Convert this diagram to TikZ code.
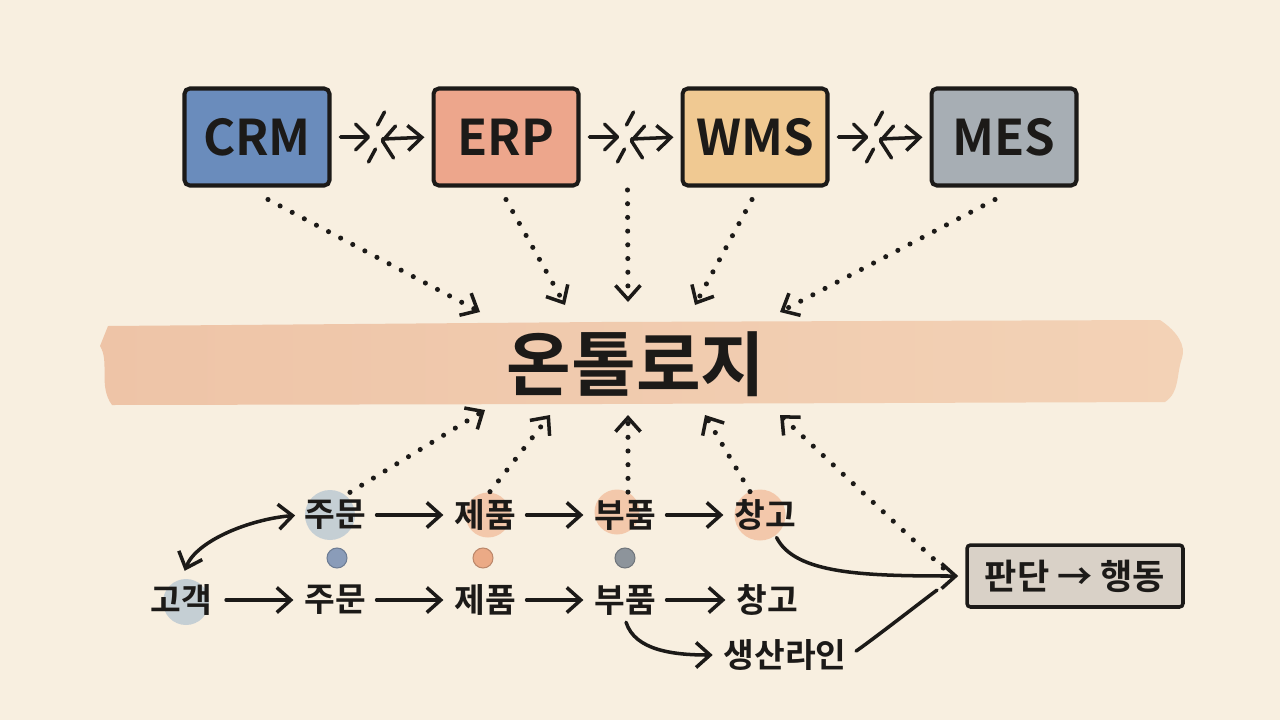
\documentclass[tikz,border=0pt]{standalone}
\usepackage{fontspec}
\setmainfont{Noto Sans CJK KR}[BoldFont={Noto Sans CJK KR Bold}]
\usepackage{tikz}
\usetikzlibrary{arrows.meta,positioning,calc}
\definecolor{bg}{HTML}{F8EFE0}
\definecolor{ink}{HTML}{1C1A18}
\definecolor{crmc}{HTML}{6A8CBC}
\definecolor{erpc}{HTML}{EDA68C}
\definecolor{wmsc}{HTML}{F0C992}
\definecolor{mesc}{HTML}{A7AEB4}
\definecolor{wash}{HTML}{EEC4A7}
\definecolor{washlt}{HTML}{F3D2B6}
\definecolor{mist}{HTML}{B9C7D2}
\definecolor{peach}{HTML}{F2BF9E}
\definecolor{stone}{HTML}{D9D1C7}
\definecolor{dotb}{HTML}{8A9CB9}
\definecolor{doto}{HTML}{EBAA86}
\definecolor{dotg}{HTML}{8D949B}
\tikzset{
  sys/.style={draw=ink, line width=2.3pt, rounded corners=3pt, minimum width=2.9cm, minimum height=1.94cm, font=\bfseries\fontsize{28}{28}\selectfont, text=ink},
  word/.style={font=\bfseries\fontsize{19}{19}\selectfont, text=ink, inner sep=2pt},
  judgebox/.style={word, font=\bfseries\fontsize{20}{20}\selectfont, draw=ink, fill=stone, line width=2pt, rounded corners=2pt, minimum width=4.32cm, minimum height=1.24cm},
  link/.style={line width=2pt, draw=ink, line cap=round, line join=round},
  flow/.style={link, -{Straight Barb[length=2.8mm,width=5mm]}},
  both/.style={link, {Straight Barb[length=2.8mm,width=5mm]}-{Straight Barb[length=2.8mm,width=5mm]}},
  feed/.style={line width=2.9pt, draw=ink, line cap=round, dash pattern=on 0pt off 7.8pt, -{Straight Barb[length=2.8mm,width=5mm,line width=2pt]}},
  blob/.style={circle, fill=#1, fill opacity=0.8, inner sep=0pt},
  dot/.style={circle, fill=#1, draw=#1!80!black, line width=0.6pt, minimum size=0.4cm, inner sep=0pt},
}
\newcommand{\brk}[3]{%
  \coordinate (#3) at ($(#1.east)!0.45!(#2.west)$);
  \draw[link, shorten <=5pt] (#1.east) -- ($(#3)+(-9,0)$);
  \draw[link] ($(#3)+(-21,-13)$) -- ($(#3)+(-8,0)$) -- ($(#3)+(-21,13)$);
  \draw[link] ($(#3)+(8,-25)$) -- ($(#3)+(1,-12)$);
  \draw[link] ($(#3)+(-1,12)$) -- ($(#3)+(-8,25)$);
  \draw[link] ($(#3)+(19,-11)$) -- ($(#3)+(6,4)$) -- ($(#3)+(17,21)$);
  \draw[flow, shorten >=4pt] ($(#3)+(6,2)$) -- (#2.west);
}
\begin{document}
\begin{tikzpicture}[x=0.02cm,y=-0.02cm]
  \fill[bg] (0,0) rectangle (1280,720);
  \useasboundingbox (0,0) rectangle (1280,720);

  \shade[left color=wash, right color=washlt] (108,326) -- (600,322) -- (1160,320)
    .. controls (1178,332) and (1186,346) .. (1182,358) .. controls (1176,375) and (1180,392) .. (1165,402)
    -- (600,404) -- (112,405) .. controls (98,386) and (110,362) .. (100,346) .. controls (104,336) .. (108,326) -- cycle;
  \node[font=\bfseries\fontsize{40}{40}\selectfont, text=ink] (onto) at (636,364) {온톨로지};

  \node[sys, fill=crmc] (crm) at (257,137) {CRM};
  \node[sys, fill=erpc] (erp) at (506,137) {ERP};
  \node[sys, fill=wmsc] (wms) at (755,137) {WMS};
  \node[sys, fill=mesc] (mes) at (1004,137) {MES};
  \brk{crm}{erp}{gap1}
  \brk{erp}{wms}{gap2}
  \brk{wms}{mes}{gap3}

  \coordinate (in1) at (480,312);
  \coordinate (in2) at (565,305);
  \coordinate (in3) at (628,302);
  \coordinate (in4) at (695,305);
  \coordinate (in5) at (780,312);
  \draw[feed] ($(crm.south)+(11,12)$) -- (in1);
  \draw[feed] ($(erp.south)+(0,12)$) -- (in2);
  \draw[feed] ($(gap2)+(2,53)$) -- (in3);
  \draw[feed] ($(wms.south)+(-3,12)$) -- (in4);
  \draw[feed] ($(mes.south)+(-9,12)$) -- (in5);

  \node[blob=mist, minimum size=1cm] at (330,515) {};
  \node[blob=peach, minimum size=0.9cm] at (488,515) {};
  \node[blob=peach, minimum size=0.9cm] at (617,512) {};
  \node[blob=peach, minimum size=1.02cm] at (760,515) {};
  \node[blob=mist, minimum size=0.92cm] at (186,602) {};

  \node[word] (ord1) at (335,515) {주문};
  \node[word] (prd1) at (485,515) {제품};
  \node[word] (prt1) at (625,515) {부품};
  \node[word] (whs1) at (765,515) {창고};

  \node[dot=dotb] (d1) at (337,558) {};
  \node[dot=doto] (d2) at (483,558) {};
  \node[dot=dotg] (d3) at (625,558) {};

  \node[word] (cust) at (181,600) {고객};
  \node[word] (ord2) at (335,600) {주문};
  \node[word] (prd2) at (485,600) {제품};
  \node[word] (prt2) at (625,600) {부품};
  \node[word] (whs2) at (767,600) {창고};
  \node[word] (line) at (785,655) {생산라인};

  \node[judgebox] (judge) at (1075,576) {판단 → 행동};

  \draw[flow, shorten <=4pt, shorten >=4pt] (ord1) -- (prd1);
  \draw[flow, shorten <=4pt, shorten >=4pt] (prd1) -- (prt1);
  \draw[flow, shorten <=4pt, shorten >=4pt] (prt1) -- (whs1);
  \draw[flow, shorten <=6pt, shorten >=4pt] (cust) -- (ord2);
  \draw[flow, shorten <=4pt, shorten >=4pt] (ord2) -- (prd2);
  \draw[flow, shorten <=4pt, shorten >=4pt] (prd2) -- (prt2);
  \draw[flow, shorten <=4pt, shorten >=4pt] (prt2) -- (whs2);

  \draw[both, shorten <=6pt, shorten >=3pt] (cust.north) .. controls +(15,-40) and +(-50,4) .. (ord1.west);
  \draw[flow, shorten <=2pt, shorten >=4pt] ($(whs1.south)+(10,0)$) .. controls +(20,40) and +(-100,0) .. (judge.west);
  \draw[flow, shorten <=2pt, shorten >=4pt] (prt2.south) .. controls +(10,32) and +(-45,0) .. (line.west);
  \draw[link, shorten <=4pt, shorten >=18pt] (line.east) .. controls +(22,-15) and +(-30,15) .. (judge.west);

  \coordinate (out1) at (485,410);
  \coordinate (out2) at (550,415);
  \coordinate (out3) at (628,415);
  \coordinate (out4) at (705,415);
  \coordinate (out5) at (780,415);
  \draw[feed] ($(ord1.north)+(15,-4)$) -- (out1);
  \draw[feed] ($(prd1.north)+(5,-4)$) -- (out2);
  \draw[feed] ($(prt1.north)+(3,-4)$) -- (out3);
  \draw[feed] ($(whs1.north)+(-15,-4)$) -- (out4);
  \draw[feed] ($(judge.west)+(-22,-8)$) -- (out5);
\end{tikzpicture}
\end{document}
